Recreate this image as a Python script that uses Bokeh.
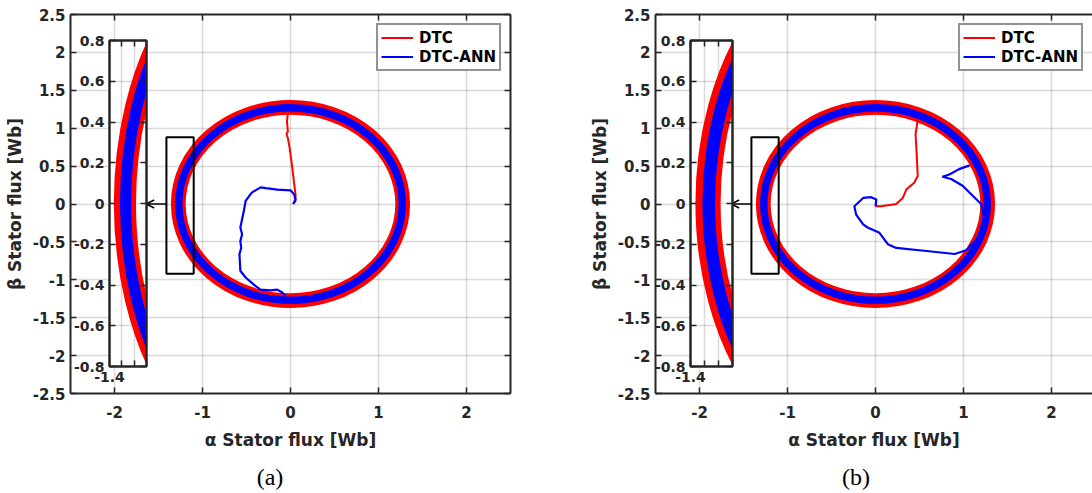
from bokeh.plotting import figure
from bokeh.layouts import row
from bokeh.models import (Range1d, FixedTicker, LinearAxis, Arrow, OpenHead,
                          Legend, LegendItem, Div)
from bokeh.embed import file_html
from bokeh.resources import INLINE

# ---------------- data ----------------
x_ticks = [-2, -1, 0, 1, 2]
x_tick_labels = ["-2", "-1", "0", "1", "2"]
y_ticks = [-2.5, -2, -1.5, -1, -0.5, 0, 0.5, 1, 1.5, 2, 2.5]
y_tick_labels = ["-2.5", "-2", "-1.5", "-1", "-0.5", "0", "0.5", "1", "1.5", "2", "2.5"]
inset_x_ticks = [-1.4, -1.3, -1.2, -1.1]
inset_x_labelled = [-1.4]
inset_x_tick_labels = ["-1.4"]
inset_y_ticks = [-0.8, -0.6, -0.4, -0.2, 0, 0.2, 0.4, 0.6, 0.8]
inset_y_tick_labels = ["-0.8", "-0.6", "-0.4", "-0.2", "0", "0.2", "0.4", "0.6", "0.8"]

series_names = ["DTC", "DTC-ANN"]
series_colors = ["#ff0000", "#0000ff"]
captions = ["(a)", "(b)"]

# steady-state flux locus: inner / outer radius of the hysteresis band [Wb]
dtc_ring = [1.185, 1.365]
ann_ring = [1.225, 1.315]

# zoomed window (main axes) and inset limits
zoom_box_x = [-1.41, -1.1]
zoom_box_y = [-0.92, 0.88]
inset_x_lim = [-1.4, -1.1]
inset_y_lim = [-0.8, 0.8]
arrow_tip_x = -1.64

# start-up transients, panel (a)
a_dtc_x = [0.03, 0.057, 0.057, 0.05, 0.02, -0.01, -0.03, -0.045, -0.03, -0.04, -0.03]
a_dtc_y = [0.0, 0.04, 0.13, 0.19, 0.48, 0.74, 0.87, 0.92, 0.96, 1.09, 1.2]
a_ann_x = [0.03, 0.057, 0.04, 0.0, -0.15, -0.28, -0.34, -0.44, -0.51, -0.53, -0.55,
           -0.57, -0.55, -0.57, -0.56, -0.58, -0.57, -0.51, -0.40, -0.34, -0.23,
           -0.15, -0.09, -0.06]
a_ann_y = [0.0, 0.06, 0.13, 0.18, 0.19, 0.21, 0.22, 0.15, 0.04, -0.09, -0.2,
           -0.31, -0.4, -0.49, -0.58, -0.66, -0.88, -0.97, -1.08, -1.13, -1.14,
           -1.13, -1.17, -1.22]

# start-up transients, panel (b)
b_dtc_x = [0.0, 0.065, 0.235, 0.31, 0.35, 0.44, 0.48, 0.47, 0.46, 0.455, 0.47, 0.48]
b_dtc_y = [-0.03, -0.03, 0.0, 0.08, 0.19, 0.28, 0.37, 0.61, 0.83, 0.92, 1.03, 1.12]
b_ann_x = [0.0, 0.01, -0.05, -0.14, -0.24, -0.22, -0.14, -0.09, 0.045, 0.14, 0.235,
           0.58, 0.90, 1.03, 1.17, 1.24, 1.2, 0.99, 0.86, 0.76, 0.84, 0.95, 1.07]
b_ann_y = [-0.03, 0.06, 0.09, 0.08, -0.03, -0.14, -0.27, -0.31, -0.38, -0.53, -0.58,
           -0.62, -0.66, -0.61, -0.45, -0.2, 0.0, 0.24, 0.33, 0.36, 0.39, 0.46, 0.51]

# ---------------- styling ----------------
FONT = "DejaVu Sans"
INK = "#262626"


def style_axis(ax, ticks, labels, size="15px", standoff=5, extra_ticks=()):
    ax.ticker = FixedTicker(ticks=list(ticks), minor_ticks=list(extra_ticks))
    ax.major_label_overrides = {float(t): l for t, l in zip(ticks, labels)}
    for kind in ("major", "minor"):
        setattr(ax, kind + "_tick_in", 6)
        setattr(ax, kind + "_tick_out", 0)
        setattr(ax, kind + "_tick_line_color", INK)
        setattr(ax, kind + "_tick_line_width", 1.5)
    ax.axis_line_color = INK
    ax.axis_line_width = 2
    ax.major_label_text_font = FONT
    ax.major_label_text_font_style = "bold"
    ax.major_label_text_color = INK
    ax.major_label_text_font_size = size
    ax.major_label_standoff = standoff


def tick_only_axis(ticks):
    # frame side carrying inward tick marks only (no labels)
    ax = LinearAxis(ticker=FixedTicker(ticks=[], minor_ticks=list(ticks)))
    ax.minor_tick_in = 6
    ax.minor_tick_out = 0
    ax.minor_tick_line_color = INK
    ax.minor_tick_line_width = 1.5
    ax.major_tick_line_color = None
    ax.axis_line_color = INK
    ax.axis_line_width = 2
    return ax


def style_grid(p, xt, yt):
    p.xgrid.ticker = FixedTicker(ticks=list(xt))
    p.ygrid.ticker = FixedTicker(ticks=list(yt))
    for g in (p.xgrid, p.ygrid):
        g.grid_line_color = INK
        g.grid_line_alpha = 0.17
        g.grid_line_width = 1.5


def main_panel(width, x_end, border_right, dtc_x, dtc_y, ann_x, ann_y, right_axis):
    p = figure(width=width, height=493, x_range=Range1d(-2.5, x_end),
               y_range=Range1d(-2.5, 2.5), output_backend="svg", toolbar_location=None,
               min_border_left=70, min_border_right=border_right,
               min_border_top=14, min_border_bottom=100)
    p.outline_line_color = None
    p.background_fill_color = "white"
    p.border_fill_color = "white"
    style_grid(p, x_ticks, y_ticks)

    style_axis(p.xaxis[0], x_ticks, x_tick_labels, standoff=12)
    style_axis(p.yaxis[0], y_ticks, y_tick_labels, standoff=5)
    p.xaxis[0].axis_label = "α Stator flux [Wb]"
    p.yaxis[0].axis_label = "β Stator flux [Wb]"
    for ax in (p.xaxis[0], p.yaxis[0]):
        ax.axis_label_text_font = FONT
        ax.axis_label_text_font_style = "bold"
        ax.axis_label_text_font_size = "17px"
        ax.axis_label_text_color = INK
    p.xaxis[0].axis_label_standoff = 9
    p.yaxis[0].axis_label_standoff = 5

    p.add_layout(tick_only_axis(x_ticks), "above")
    if right_axis:
        p.add_layout(tick_only_axis(y_ticks), "right")

    p.ellipse(x=0, y=0, width=dtc_ring[0] + dtc_ring[1],
              height=dtc_ring[0] + dtc_ring[1], fill_color=None,
              line_color=series_colors[0],
              line_width=(dtc_ring[1] - dtc_ring[0]) * 82)
    r_dtc = p.line(dtc_x, dtc_y, line_color=series_colors[0], line_width=2)
    p.ellipse(x=0, y=0, width=ann_ring[0] + ann_ring[1],
              height=ann_ring[0] + ann_ring[1], fill_color=None,
              line_color=series_colors[1],
              line_width=(ann_ring[1] - ann_ring[0]) * 82)
    r_ann = p.line(ann_x, ann_y, line_color=series_colors[1], line_width=2.2)

    p.quad(left=zoom_box_x[0], right=zoom_box_x[1], bottom=zoom_box_y[0], top=zoom_box_y[1],
           fill_color=None, line_color="black", line_width=2)
    p.add_layout(Arrow(end=OpenHead(size=8, line_width=1.5, line_color="black"),
                       x_start=zoom_box_x[0], y_start=0, x_end=arrow_tip_x, y_end=0,
                       line_width=1.5, line_color="black"))

    legend = Legend(items=[LegendItem(label=series_names[0], renderers=[r_dtc]),
                           LegendItem(label=series_names[1], renderers=[r_ann])],
                    location="top_right")
    legend.label_text_font = FONT
    legend.label_text_font_style = "bold"
    legend.label_text_font_size = "15px"
    legend.label_text_color = "black"
    legend.border_line_color = INK
    legend.border_line_width = 2
    legend.padding = 3
    legend.spacing = 0
    legend.glyph_width = 32
    legend.glyph_height = 19
    legend.label_height = 19
    legend.label_standoff = 6
    legend.margin = 9
    legend.background_fill_alpha = 1
    p.add_layout(legend)
    return p


def inset_panel(left, frame_w):
    q = figure(frame_width=frame_w, frame_height=326,
               x_range=Range1d(inset_x_lim[0], inset_x_lim[1]),
               y_range=Range1d(inset_y_lim[0], inset_y_lim[1]),
               output_backend="svg", toolbar_location=None,
               min_border_left=40, min_border_right=10, min_border_top=10,
               min_border_bottom=30,
               styles={"position": "absolute", "left": f"{left}px", "top": "26px"})
    q.border_fill_color = None
    q.background_fill_color = "white"
    q.outline_line_color = INK
    q.outline_line_width = 2
    style_grid(q, inset_x_ticks, inset_y_ticks)
    style_axis(q.xaxis[0], inset_x_labelled, inset_x_tick_labels, size="14px", standoff=5,
               extra_ticks=[t for t in inset_x_ticks if t not in inset_x_labelled])
    style_axis(q.yaxis[0], inset_y_ticks, inset_y_tick_labels, size="14px", standoff=5)
    q.add_layout(tick_only_axis(inset_x_ticks), "above")
    q.add_layout(tick_only_axis(inset_y_ticks), "right")
    scale = frame_w / (inset_x_lim[1] - inset_x_lim[0])
    for ring, col in zip([dtc_ring, ann_ring], series_colors):
        q.ellipse(x=0, y=0, width=ring[0] + ring[1], height=ring[0] + ring[1],
                  fill_color=None, line_color=col,
                  line_width=(ring[1] - ring[0]) * scale)
    return q


def caption_div(text, center_x):
    return Div(text=f'<span style="font-family: \'Liberation Serif\', serif; '
                    f'font-size: 24px; color: black; line-height: 28px;">{text}</span>',
               width=80, height=28,
               styles={"position": "absolute", "left": f"{center_x - 45}px",
                       "top": "458px", "text-align": "center"})


fa = main_panel(585, 2.5, 75, a_dtc_x, a_dtc_y, a_ann_x, a_ann_y, True)
fb = main_panel(507, 2.466, 0, b_dtc_x, b_dtc_y, b_ann_x, b_ann_y, False)
ia = inset_panel(69, 37)
ib = inset_panel(650, 42)
ca = caption_div(captions[0], 270)
cb = caption_div(captions[1], 856)

layout = row(fa, fb, ia, ib, ca, cb, styles={"position": "relative"})

open("out.html", "w").write(file_html(layout, INLINE))
